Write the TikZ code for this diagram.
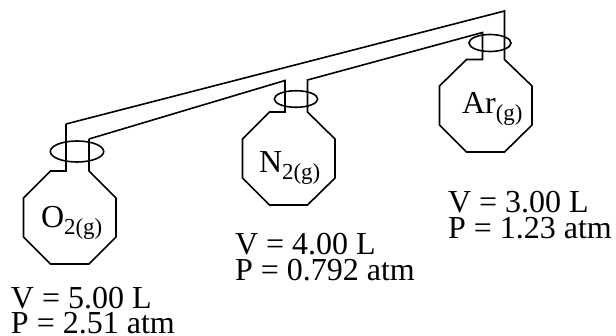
\documentclass[tikz,border=0pt]{standalone}
\usepackage{fontspec}
\setmainfont{Liberation Serif}
\newcommand{\bigsz}{\fontsize{24}{25}\selectfont}
\newcommand{\subsz}{\fontsize{17.2}{20}\selectfont}
\tikzset{
  glass/.style={line width=1.2pt, line join=miter, black},
  stopper/.style={line width=1.2pt, black},
  gaslabel/.style={anchor=base west, inner sep=0pt, outer sep=0pt, font=\bigsz},
  datalabel/.style={anchor=base west, inner sep=0pt, outer sep=0pt, font=\bigsz}
}
\newcommand{\gasname}[2]{#1\raisebox{-5.6pt}{\subsz #2}}
\begin{document}
\begin{tikzpicture}[x=0.75pt,y=-0.75pt]
\useasboundingbox (0,0) rectangle (616,335);
\draw[glass] (66,124) -- (66,171) -- (50.5,171) -- (23.5,198) -- (23.5,237) -- (50.5,264) -- (89,264) -- (116,237) -- (116,198) -- (89,171) -- (89,139);
\draw[glass] (89,139) -- (285,80.5) -- (285,112) -- (269.5,112) -- (242.5,139) -- (242.5,178) -- (269.5,205) -- (307.5,205) -- (335,178) -- (335,139) -- (307.5,112) -- (307.5,80) -- (482.5,32.5) -- (482.5,59.5) -- (466.5,59.5) -- (439.5,86) -- (439.5,125) -- (466.5,152) -- (504.5,152) -- (532,125) -- (532,86) -- (504.5,59.5) -- (504.5,11) -- (66,124);
\draw[stopper] (77,151.5) ellipse [x radius=26.7, y radius=10.5];
\draw[stopper] (296,99) ellipse [x radius=21.7, y radius=8.3];
\draw[stopper] (490,43) ellipse [x radius=21, y radius=8.5];
\node[gaslabel] (oxy) at (41,227) {\gasname{O}{2(g)}};
\node[gaslabel] (nit) at (259,172) {\gasname{N}{2(g)}};
\node[gaslabel] (arg) at (462,113) {\gasname{Ar}{(g)}};
\node[datalabel] (ov) at (11,308.5) {V = 5.00 L};
\node[datalabel] (op) at (11,333.5) {P = 2.51 atm};
\node[datalabel] (nv) at (235,254) {V = 4.00 L};
\node[datalabel] (np) at (235,280.5) {P = 0.792 atm};
\node[datalabel] (av) at (448,212) {V = 3.00 L};
\node[datalabel] (ap) at (448,238) {P = 1.23 atm};
\end{tikzpicture}
\end{document}
